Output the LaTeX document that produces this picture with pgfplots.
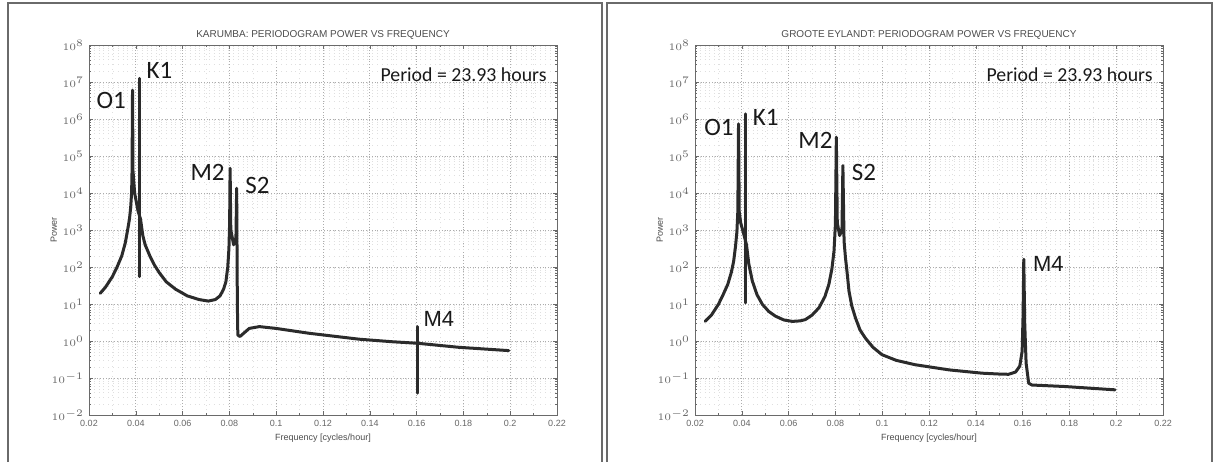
\documentclass[border=0pt]{standalone}
\usepackage{pgfplots}
\pgfplotsset{compat=1.18}
\usepackage{fontspec}
\setmainfont{Liberation Sans}
\newfontfamily\calib{Carlito}

\definecolor{curve}{HTML}{2B2B2B}
\definecolor{frame}{HTML}{6A6A6A}

\tikzset{
  peak/.style={font=\calib\fontsize{12.5}{14}\selectfont, text=black!90},
  tcurve/.style={curve, line width=1.5pt, line join=round, line cap=round, mark=none},
}

\pgfplotsset{
  tidelook/.style={
    scale only axis,
    width=234pt, height=185pt,
    xmin=0.02, xmax=0.22, ymin=1e-2, ymax=1e8,
    xtick={0.02,0.04,...,0.22},
    xticklabels={0.02,0.04,0.06,0.08,0.1,0.12,0.14,0.16,0.18,0.2,0.22},
    ytick={1e-2,1e-1,1,1e1,1e2,1e3,1e4,1e5,1e6,1e7,1e8},
    minor x tick num=1,
    tick pos=both, tick align=inside,
    major tick length=2pt, minor tick length=1pt,
    grid=both,
    major grid style={gray!65, densely dotted, line width=0.5pt},
    minor grid style={gray!25, dotted, line width=0.3pt},
    axis line style={frame, line width=0.5pt},
    tick style={frame},
    tick label style={font=\fontsize{4.5}{5}\selectfont, text=black!60},
    xticklabel style={yshift=1pt},
    yticklabel style={xshift=1pt},
    xlabel={Frequency [cycles/hour]},
    ylabel={Power},
    label style={font=\fontsize{4.5}{5}\selectfont, text=black!70},
    xlabel style={yshift=3pt},
    ylabel style={yshift=-9.5pt},
    title style={font=\fontsize{5}{6}\selectfont, text=black!70, yshift=-6.5pt},
  }
}

\begin{document}
\begin{tikzpicture}
\useasboundingbox (0,0) rectangle (607.5pt,231pt);
\draw[frame, line width=1pt] (4pt,0) -- (4pt,229.5pt) -- (301pt,229.5pt) -- (301pt,0);
\draw[frame, line width=1pt] (303.5pt,0) -- (303.5pt,229.5pt) -- (606pt,229.5pt) -- (606pt,0);

% Karumba
\begin{axis}[ymode=log, tidelook, at={(44.5pt,23.5pt)}, anchor=south west,
  title={KARUMBA: PERIODOGRAM POWER VS FREQUENCY}]
\addplot[tcurve] coordinates {
(0.0248,19.5) (0.027,28.2) (0.030,55) (0.032,100) (0.034,200)
(0.0355,447) (0.0365,1000) (0.0373,2000) (0.0378,3981) (0.0382,1e4)
(0.0384,3.98e4) (0.0386,6.0e6) (0.0388,3.98e4) (0.0395,1e4) (0.0410,3162)
(0.0420,2000) (0.0430,708) (0.0440,398) (0.0460,200) (0.0480,112)
(0.0500,70.8) (0.0530,39.8) (0.0570,25.1) (0.0620,16.6) (0.0670,13.2)
(0.0710,12) (0.0740,13.2) (0.0760,16.6) (0.0775,25.1) (0.0785,39.8)
(0.0793,100) (0.0798,316) (0.0801,1585) (0.0803,4.68e4) (0.0806,1000)
(0.0818,398) (0.0828,631) (0.0831,1.35e4) (0.0834,10) (0.0836,1.45)
(0.0845,1.32) (0.0860,1.6) (0.0885,2.19) (0.0928,2.45) (0.0999,2.19)
(0.114,1.62) (0.1354,1.12) (0.1496,0.955) (0.1603,0.87) (0.178,0.676)
(0.1994,0.55)
};
\addplot[tcurve] coordinates {(0.0416,55) (0.0416,1.26e7)};
\addplot[tcurve] coordinates {(0.1603,0.0389) (0.1603,2.45)};
\node[peak] at (axis cs:0.0295,3.2e6) {O1};
\node[peak] at (axis cs:0.0501,2.0e7) {K1};
\node[peak] at (axis cs:0.0707,3.6e4) {M2};
\node[peak] at (axis cs:0.092,1.6e4) {S2};
\node[peak, font={\fontsize{11}{12}\selectfont}] at (axis cs:0.1695,4.0) {M4};
\node[peak, font={\calib\fontsize{9.9}{12}\selectfont}, anchor=east, inner sep=0pt] at (axis cs:0.2157,1.6e7) {Period = 23.93 hours};
\end{axis}

% Groote Eylandt
\begin{axis}[ymode=log, tidelook, at={(347.5pt,23.5pt)}, anchor=south west,
  title={GROOTE EYLANDT: PERIODOGRAM POWER VS FREQUENCY}]
\addplot[tcurve] coordinates {
(0.0243,3.39) (0.027,5.0) (0.030,9.77) (0.032,17.8) (0.034,33.9)
(0.0355,70.8) (0.0365,141) (0.0373,355) (0.0379,891) (0.0383,3162)
(0.0386,7.41e5) (0.0389,3162) (0.0395,1585) (0.0410,708) (0.0420,400)
(0.0430,120) (0.0445,41.7) (0.0465,17.8) (0.0488,9.77) (0.0515,6.3)
(0.0544,4.68) (0.0580,3.7) (0.0616,3.39) (0.0650,3.5) (0.0672,3.80)
(0.0700,5.0) (0.0730,7.94) (0.0755,15.8) (0.0772,33.9) (0.0785,89)
(0.0794,269) (0.0800,1445) (0.0804,3.24e5) (0.0808,1585) (0.0818,708)
(0.0828,1000) (0.0832,5.5e4) (0.0837,500) (0.0843,178) (0.0850,70.8)
(0.0858,22.4) (0.0870,8.9) (0.0886,4.17) (0.0905,2.0) (0.0928,1.20)
(0.0960,0.68) (0.0999,0.427) (0.106,0.30) (0.114,0.229) (0.1285,0.166)
(0.1427,0.135) (0.150,0.128) (0.154,0.126) (0.157,0.145) (0.1588,0.21)
(0.1598,0.525) (0.1602,5) (0.1605,162) (0.1609,3) (0.1615,0.251)
(0.1626,0.0724) (0.164,0.0646) (0.178,0.0589) (0.1995,0.0479)
};
\addplot[tcurve] coordinates {(0.0416,10.7) (0.0416,1.38e6)};
\node[peak] at (axis cs:0.0302,6.0e5) {O1};
\node[peak] at (axis cs:0.0502,1.1e6) {K1};
\node[peak] at (axis cs:0.0715,2.6e5) {M2};
\node[peak] at (axis cs:0.0922,3.6e4) {S2};
\node[peak, font={\fontsize{11}{12}\selectfont}] at (axis cs:0.171,118) {M4};
\node[peak, font={\calib\fontsize{9.9}{12}\selectfont}, anchor=east, inner sep=0pt] at (axis cs:0.2157,1.6e7) {Period = 23.93 hours};
\end{axis}
\end{tikzpicture}
\end{document}
